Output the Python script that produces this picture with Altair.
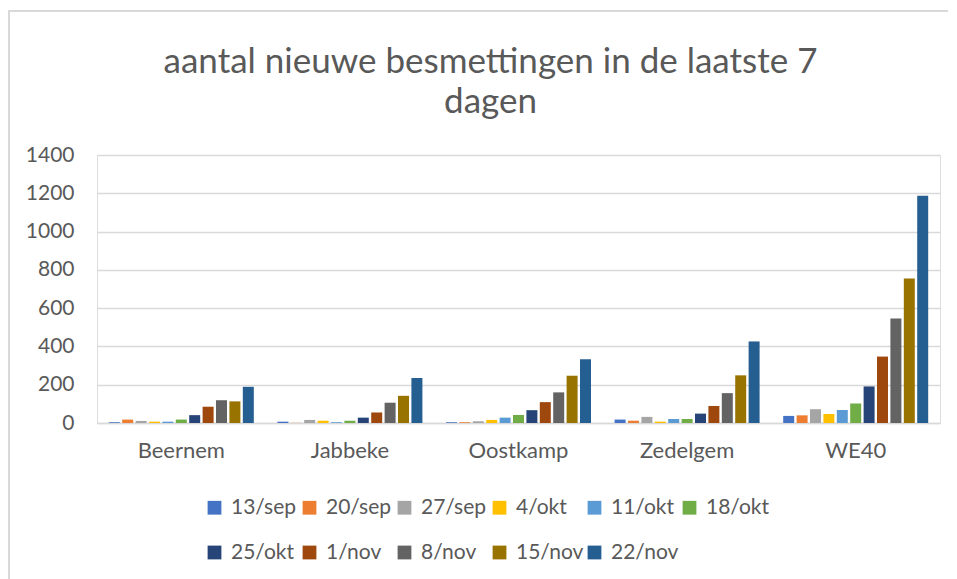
import altair as alt
import pandas as pd

gemeenten = ["Beernem", "Jabbeke", "Oostkamp", "Zedelgem", "WE40"]
weken = ["13/sep", "20/sep", "27/sep", "4/okt", "11/okt", "18/okt",
         "25/okt", "1/nov", "8/nov", "15/nov", "22/nov"]
kleuren = ["#4472C4", "#ED7D31", "#A5A5A5", "#FFC000", "#5B9BD5", "#70AD47",
           "#264478", "#9E480E", "#636363", "#997300", "#255E91"]

beernem = [4, 18, 11, 7, 7, 18, 41, 85, 119, 113, 189]
jabbeke = [7, 1, 16, 12, 4, 12, 28, 55, 106, 142, 235]
oostkamp = [4, 4, 9, 16, 28, 42, 67, 109, 160, 247, 333]
zedelgem = [18, 12, 32, 7, 21, 21, 49, 89, 156, 249, 426]
we40 = [37, 40, 72, 47, 68, 102, 191, 347, 546, 755, 1187]

reeksen = [beernem, jabbeke, oostkamp, zedelgem, we40]
rows = []
for g, vals in zip(gemeenten, reeksen):
    for w, v in zip(weken, vals):
        rows.append({"gemeente": g, "week": w, "aantal": v})
df = pd.DataFrame(rows)

tekst = "#595959"
font = "Lato"

bars = alt.Chart(df).mark_bar().encode(
    x=alt.X("gemeente:N", sort=gemeenten, title=None,
            scale=alt.Scale(paddingInner=0.14, paddingOuter=0.07),
            axis=alt.Axis(labelAngle=0, labelFontSize=22, labelColor=tekst, labelFont=font,
                          ticks=False, domainColor="#d9d9d9", domainWidth=1.5,
                          labelPadding=17, grid=False)),
    xOffset=alt.XOffset("week:N", sort=weken, scale=alt.Scale(paddingInner=0.18)),
    y=alt.Y("aantal:Q", title=None,
            scale=alt.Scale(domain=[0, 1400]),
            axis=alt.Axis(values=list(range(0, 1401, 200)), format="d", labelFontSize=21,
                          labelColor=tekst, labelFont=font, ticks=False, domain=False,
                          gridColor="#d9d9d9", gridWidth=1.5, labelPadding=23)),
    color=alt.Color("week:N", sort=weken,
                    scale=alt.Scale(domain=weken, range=kleuren),
                    legend=alt.Legend(title=None, orient="none", legendX=107, legendY=342,
                                      direction="horizontal", columns=6, gridAlign="all",
                                      symbolType="square", symbolSize=190,
                                      symbolStrokeWidth=0, labelFontSize=21,
                                      labelColor=tekst, labelFont=font,
                                      rowPadding=23, columnPadding=0, labelOffset=6)),
)

frame = alt.Chart(pd.DataFrame({"k": [0]})).mark_rect(
    fill=None, stroke="#d9d9d9", strokeWidth=2
).encode(x=alt.value(-88), x2=alt.value(1000), y=alt.value(-144), y2=alt.value(600))

chart = alt.layer(frame, bars).properties(
    width=843, height=268,
    title=alt.TitleParams(["aantal nieuwe besmettingen in de laatste 7", "dagen"],
                          fontSize=35, font=font, fontWeight="normal", color=tekst,
                          anchor="middle", dx=-28, lineHeight=40, offset=-110),
    autosize=alt.AutoSizeParams(type="none"),
    padding={"left": 89, "top": 147, "right": 8, "bottom": 156},
).configure_view(stroke=None).configure(background="white")

chart.save("out.html", embed_options={"renderer": "svg", "actions": False})
